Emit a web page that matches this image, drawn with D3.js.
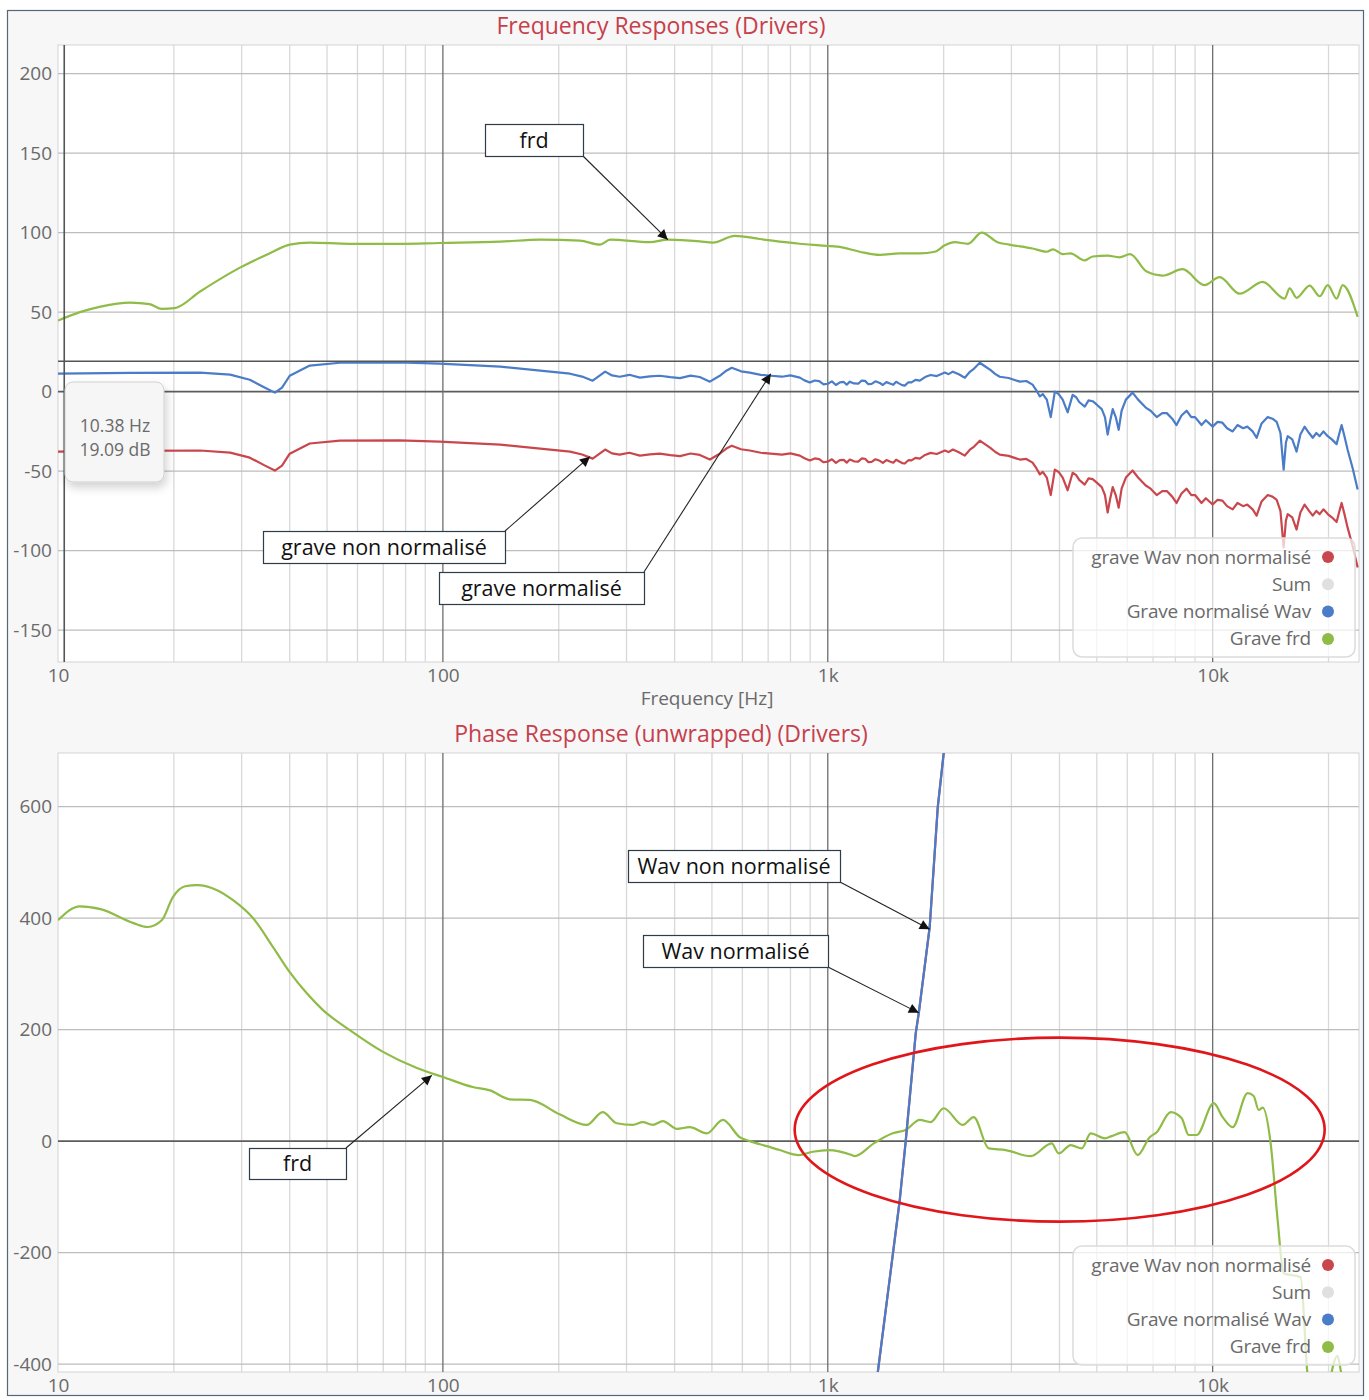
<!DOCTYPE html>
<html>
<head>
<meta charset="utf-8">
<script src="https://cdn.jsdelivr.net/npm/d3@7"></script>
<style>
  body { margin: 0; background: #fff; }
  svg { display: block; font-family: "Open Sans", "DejaVu Sans", sans-serif; }
</style>
</head>
<body>
<div id="chart"></div>
<script>
// ---- data ----
const freqTicks = [10, 100, 1000, 10000];
const freqTickLabels = ["10", "100", "1k", "10k"];
const minorFreqs = [20, 30, 40, 50, 60, 70, 80, 90, 200, 300, 400, 500, 600, 700, 800, 900,
  2000, 3000, 4000, 5000, 6000, 7000, 8000, 9000, 20000];
const magTicks = [-150, -100, -50, 0, 50, 100, 150, 200];
const phaseTicks = [-400, -200, 0, 200, 400, 600];

const legendNames = ["grave Wav non normalisé", "Sum", "Grave normalisé Wav", "Grave frd"];
const legendColors = ["#c9474c", "#e0e0e0", "#4a7cc7", "#8fbb47"];

// magnitude, wav curves (Hz, dB)
const magWavFreq = [10, 15.4, 23.4, 28, 31.5, 34.5, 36.6, 38.2, 40, 45.1,
  54, 77, 98, 141, 179, 214, 230, 245, 264, 275,
  288, 305, 325, 345, 366, 390, 413, 440, 465, 494,
  524, 545, 563, 595, 627, 670, 711, 760, 800, 846,
  870, 898, 925, 950, 975, 1000, 1025, 1050, 1075, 1100,
  1120, 1141, 1170, 1200, 1225, 1250, 1275, 1300, 1330, 1365,
  1390, 1420, 1450, 1480, 1505, 1530, 1560, 1585, 1620, 1650,
  1690, 1734, 1790, 1850, 1920, 2014, 2060, 2113, 2190, 2270,
  2340, 2400, 2483, 2560, 2650, 2720, 2798, 2950, 3155, 3280,
  3404, 3480, 3556, 3620, 3707, 3796, 3890, 3980, 4077, 4200,
  4327, 4420, 4500, 4652, 4760, 4878, 5000, 5150, 5250, 5336,
  5420, 5500, 5600, 5699, 5800, 5950, 6194, 6400, 6700, 6900,
  7155, 7400, 7600, 7850, 8055, 8300, 8557, 8800, 9000, 9355,
  9600, 10000, 10300, 10600, 10900, 11271, 11600, 12000, 12300, 12703,
  13008, 13400, 13900, 14300, 14666, 15000, 15289, 15500, 15668, 16100,
  16520, 16900, 17334, 17800, 18197, 18600, 18967, 19400, 19907, 20400,
  20991, 21300, 21630, 22000, 22420, 23100, 23810];
const magBlue = [11.3, 11.8, 12.0, 10.7, 7.5, 2.5, -0.6, 2.5, 10, 16.4,
  18.2, 18.4, 17.6, 15.7, 13.2, 11.3, 9.5, 6.9, 12.6, 10.2,
  9.4, 10.6, 8.8, 9.6, 10, 9.1, 8.5, 10.1, 9.2, 6.3,
  10, 13.2, 15, 12.8, 12, 10.6, 10, 9.4, 10.2, 8.8,
  7.1, 5.7, 7.0, 6.6, 4.6, 5, 6.5, 4.2, 5.9, 6.1,
  4.4, 6.3, 5.2, 5.0, 7.0, 6.8, 4.7, 4.9, 6.5, 5.5,
  4.2, 6.0, 5.1, 4.3, 6.2, 5.2, 4.1, 3.8, 5.9, 5.8,
  7.4, 6.9, 9.2, 10.5, 9.8, 12, 11.0, 12.6, 10.9, 8.8,
  12.5, 14.5, 18.2, 16.0, 13.5, 11.2, 9.4, 8.6, 6.3, 6.7,
  4.4, 1.0, -3, -1.5, -5, -16, 0, -1.5, -5, -13,
  -2, -3.5, -6.5, -9.4, -5.5, -6, -8.2, -11, -16, -27,
  -18, -11, -16, -24, -12, -5, -0.6, -5, -10, -12,
  -16, -13.5, -13.5, -17, -21, -15, -12, -16, -16, -21,
  -18, -22, -19, -19.5, -23, -25, -21, -23, -22, -25,
  -29, -20, -16, -17, -19, -26, -49, -32, -28, -30,
  -37.7, -27, -22, -26, -29, -26, -28, -25, -28, -30,
  -33, -27, -21, -28, -36.5, -48, -61.6];
const magRed = [-37.7, -37.2, -37.0, -38.3, -41.5, -46.5, -49.6, -46.5, -39, -32.6,
  -30.8, -30.6, -31.4, -33.3, -35.8, -37.7, -39.5, -42.1, -36.4, -38.8,
  -39.6, -38.4, -40.2, -39.4, -39, -39.9, -40.5, -38.9, -39.8, -42.7,
  -39, -35.8, -34, -36.2, -37, -38.4, -39, -39.6, -38.8, -40.2,
  -41.9, -43.3, -42, -42.4, -44.4, -44, -42.5, -44.8, -43.1, -42.9,
  -44.6, -42.7, -43.8, -44, -42, -42.2, -44.3, -44.1, -42.5, -43.5,
  -44.8, -43, -43.9, -44.7, -42.8, -43.8, -44.9, -45.2, -43.1, -43.2,
  -41.6, -42.1, -39.8, -38.5, -39.2, -37, -38, -36.4, -38.1, -40.2,
  -36.5, -34.5, -30.8, -33, -35.5, -37.8, -39.6, -40.4, -42.7, -42.3,
  -44.6, -48, -52, -50.5, -54, -65, -49, -50.5, -54, -62,
  -51, -52.5, -55.5, -58.4, -54.5, -55, -57.2, -60, -65, -76,
  -67, -60, -65, -73, -61, -54, -49.6, -54, -59, -61,
  -65, -62.5, -62.5, -66, -70, -64, -61, -65, -65, -70,
  -67, -71, -68, -68.5, -72, -74, -70, -72, -71, -74,
  -78, -69, -65, -66, -68, -75, -98, -81, -77, -79,
  -86.7, -76, -71, -75, -78, -75, -77, -74, -77, -79,
  -82, -76, -70, -77, -85.5, -97, -110.6];

// magnitude, frd curve
const magFrdFreq = [10, 11.4, 12.9, 15.4, 17.3, 18.6, 20.1, 23.4, 29.7, 35.5, 40, 45.1, 57.3, 77.3, 98, 141, 179, 227, 256,
  272, 345, 384, 465, 503, 573, 666, 846, 953, 1075, 1211, 1365, 1538, 1734, 1897, 2014, 2138, 2312, 2512, 2760,
  2960, 3404, 3707, 3850, 4077, 4270, 4652, 4878, 5336, 5728, 6100, 6740, 7413, 8354, 9524, 10426, 11755, 13490,
  15382, 15849, 16520, 17865, 18967, 19907, 20991, 21760, 23810];
const magFrd = [44.7, 50, 53.5, 56, 55, 52, 52.5, 63, 78, 87, 92.5, 93.7, 93, 93, 93.5, 94.3, 95.6, 95, 92.5,
  95.6, 94, 95.6, 94.5, 93.7, 98, 96, 93, 92, 91, 88, 86, 87, 87, 88, 92, 94, 93, 100, 94,
  92.5, 90, 88, 89.5, 86.5, 87, 82.5, 85, 85.5, 84.5, 86.5, 75.5, 73, 77, 67, 72, 61.6, 69,
  58.5, 65, 59, 66.7, 60, 67, 58.5, 67, 47];

// phase, frd curve (Hz, degrees)
const phaseFrdFreq = [10, 11.4, 12.9, 15.7, 17.1, 18.6, 19.9, 21.4, 23, 25.9, 28.5, 32.1, 36.2, 40, 44.3, 48.8, 57.3, 69.9,
  85.6, 100, 119.6, 132.5, 149.3, 168.3, 201, 236.6, 260, 283, 311.5, 330.7, 351, 372.7, 405.3, 438, 485, 534, 591,
  627, 694, 750, 841, 914, 1006, 1154, 1175, 1317, 1475, 1594, 1734, 1851, 2001, 2242, 2394, 2619, 2900, 3368, 3818,
  3981, 4278, 4568, 4822, 5243, 5467, 5907, 6386, 6862, 7155, 7780, 8308, 8663, 9088, 10060, 10617, 11271, 12327,
  12778, 13166, 13490, 14147, 14754, 15289, 16927, 17652, 18967, 21100, 21630, 23810];
const phaseFrd = [396, 421, 416, 391, 384, 396, 438, 457, 459, 450, 432, 400, 348, 303, 265, 235, 199, 160,
  131, 115, 97, 91, 75, 74, 48, 29, 52, 32, 29, 34, 29, 36, 22, 25, 14, 38, 7,
  0, -9, -16, -25, -19, -16, -25, -27, -4, 14, 20, 38, 34, 59, 29, 43, -13, -16, -27, -4,
  -22, -7, -13, 14, 5, 9, 16, -25, 7, 16, 52, 41, 11, 11, 68, 43, 25, 86,
  81, 56, 60, -4, -142, -237, -244, -420, -500, -385, -420, -520];

// phase, wav curves (both wav curves lie on the same line)
const phaseWavFreq = [1300, 1349, 1538, 1594, 1693, 1724, 1840, 1931, 2001, 2060];
const phaseWavNorm = [-520, -414, -106, 0, 194, 230, 384, 599, 696, 790];
const phaseWavNonNorm = [-520, -414, -106, 0, 194, 230, 384, 599, 696, 790];

// ---- layout ----
const W = 1369, H = 1400;
const svg = d3.select("#chart").append("svg").attr("width", W).attr("height", H);

svg.append("rect").attr("x", 7.5).attr("y", 10.5).attr("width", 1356).attr("height", 1385)
  .attr("fill", "#f7f7f7").attr("stroke", "#55677a").attr("stroke-width", 1.2);

const defs = svg.append("defs");
defs.append("marker").attr("id", "arrow").attr("viewBox", "0 0 10 10")
  .attr("refX", 10).attr("refY", 5).attr("markerWidth", 14).attr("markerHeight", 10)
  .attr("markerUnits", "userSpaceOnUse").attr("orient", "auto")
  .append("path").attr("d", "M0,0 L10,5 L0,10 z").attr("fill", "#111");
const shadow = defs.append("filter").attr("id", "shadow").attr("x", "-30%").attr("y", "-30%")
  .attr("width", "160%").attr("height", "160%");
shadow.append("feDropShadow").attr("dx", 2).attr("dy", 5).attr("stdDeviation", 5)
  .attr("flood-color", "#000").attr("flood-opacity", 0.18);

function panel(cfg) {
  const x = d3.scaleLog().domain([10, 24000]).range([cfg.left, cfg.right]);
  const y = d3.scaleLinear().domain(cfg.yDomain).range([cfg.bottom, cfg.top]);
  const g = svg.append("g");

  g.append("rect").attr("x", cfg.left).attr("y", cfg.top)
    .attr("width", cfg.right - cfg.left).attr("height", cfg.bottom - cfg.top)
    .attr("fill", "#fff").attr("stroke", "#d4d4d4");

  // grid
  g.selectAll(".minor").data(minorFreqs).enter().append("line")
    .attr("x1", d => x(d)).attr("x2", d => x(d)).attr("y1", cfg.top).attr("y2", cfg.bottom)
    .attr("stroke", "#d9d9d9").attr("stroke-width", 1.3);
  g.selectAll(".hgrid").data(cfg.yTicks).enter().append("line")
    .attr("x1", cfg.left).attr("x2", cfg.right).attr("y1", d => y(d)).attr("y2", d => y(d))
    .attr("stroke", d => d === 0 ? "#5c5c5c" : "#bdbdbd").attr("stroke-width", d => d === 0 ? 1.6 : 1.3);
  g.selectAll(".major").data(freqTicks.slice(1)).enter().append("line")
    .attr("x1", d => x(d)).attr("x2", d => x(d)).attr("y1", cfg.top).attr("y2", cfg.bottom)
    .attr("stroke", "#6e6e6e").attr("stroke-width", 1.3);

  // axes
  const ya = g.append("g").attr("transform", `translate(${cfg.left - 5},0)`)
    .call(d3.axisLeft(y).tickValues(cfg.yTicks).tickSize(0).tickPadding(1).tickFormat(d => String(d)));
  const xa = g.append("g").attr("transform", `translate(0,${cfg.bottom + 3})`)
    .call(d3.axisBottom(x).tickValues(freqTicks).tickSize(0).tickPadding(3)
      .tickFormat((d, i) => freqTickLabels[i]));
  [ya, xa].forEach(a => {
    a.select(".domain").remove();
    a.selectAll("text").attr("fill", "#6a6a6a").attr("font-size", 19).attr("font-family", "Open Sans, sans-serif");
  });

  // title
  svg.append("text").attr("x", 661).attr("y", cfg.top - 11)
    .attr("text-anchor", "middle").attr("fill", "#c6404c").attr("font-size", 23).text(cfg.title);

  const clipId = "clip" + cfg.top;
  defs.append("clipPath").attr("id", clipId).append("rect")
    .attr("x", cfg.left).attr("y", cfg.top).attr("width", cfg.right - cfg.left).attr("height", cfg.bottom - cfg.top);
  const plot = g.append("g").attr("clip-path", `url(#${clipId})`);
  return { x, y, g, plot };
}

function drawSeries(p, freqs, vals, color, curve) {
  const pts = freqs.map((f, i) => [f, vals[i]]);
  p.plot.append("path").datum(pts)
    .attr("d", d3.line().x(d => p.x(d[0])).y(d => p.y(d[1])).curve(curve))
    .attr("fill", "none").attr("stroke", color).attr("stroke-width", 2.2).attr("stroke-linejoin", "round");
}

function legend(yTop) {
  const lg = svg.append("g");
  lg.append("rect").attr("x", 1073).attr("y", yTop).attr("width", 282).attr("height", 119).attr("rx", 9)
    .attr("fill", "#fff").attr("fill-opacity", 0.72).attr("stroke", "#dcdcdc").attr("stroke-width", 1.5);
  legendNames.forEach((n, i) => {
    const cy = yTop + 19 + i * 27.3;
    lg.append("text").attr("x", 1311).attr("y", cy + 6.5).attr("text-anchor", "end")
      .attr("fill", "#6a6a6a").attr("font-size", 19).attr("letter-spacing", -0.2).text(n);
    lg.append("circle").attr("cx", 1328).attr("cy", cy).attr("r", 6).attr("fill", legendColors[i]);
  });
}

function callout(p, text, box, fromPt, tipF, tipV) {
  const c = svg.append("g");
  c.append("line").attr("x1", fromPt[0]).attr("y1", fromPt[1])
    .attr("x2", p.x(tipF)).attr("y2", p.y(tipV))
    .attr("stroke", "#222").attr("stroke-width", 1.1).attr("marker-end", "url(#arrow)");
  c.append("rect").attr("x", box[0] + 0.5).attr("y", box[1] + 0.5).attr("width", box[2]).attr("height", box[3])
    .attr("fill", "#fff").attr("stroke", "#2e3b48").attr("stroke-width", 1.2);
  c.append("text").attr("x", box[0] + box[2] / 2).attr("y", box[1] + box[3] / 2 + 7.5)
    .attr("text-anchor", "middle").attr("fill", "#111").attr("font-size", 21.5)
    .attr("font-family", "Open Sans, sans-serif").text(text);
}

// ---- top: magnitude ----
const magP = panel({ left: 58, right: 1359, top: 45, bottom: 662, yDomain: [-170, 218], yTicks: magTicks,
  title: "Frequency Responses (Drivers)" });
drawSeries(magP, magFrdFreq, magFrd, legendColors[3], d3.curveMonotoneX);
drawSeries(magP, magWavFreq, magRed, legendColors[0], d3.curveLinear);
drawSeries(magP, magWavFreq, magBlue, legendColors[2], d3.curveLinear);

// crosshair at cursor
const curF = 10.38, curV = 19.09;
magP.plot.append("line").attr("x1", magP.x(curF)).attr("x2", magP.x(curF)).attr("y1", 45).attr("y2", 662)
  .attr("stroke", "#555").attr("stroke-width", 1.6);
magP.plot.append("line").attr("x1", 58).attr("x2", 1359).attr("y1", magP.y(curV)).attr("y2", magP.y(curV))
  .attr("stroke", "#555").attr("stroke-width", 1.6);

svg.append("text").attr("x", 707).attr("y", 705).attr("text-anchor", "middle")
  .attr("fill", "#6a6a6a").attr("font-size", 19).text("Frequency [Hz]");
legend(538);

const tip = svg.append("g");
tip.append("rect").attr("x", 65).attr("y", 382).attr("width", 99).attr("height", 100).attr("rx", 8)
  .attr("fill", "#f6f6f6").attr("stroke", "#d0d0d0").attr("filter", "url(#shadow)");
tip.append("text").attr("x", 115).attr("y", 432).attr("text-anchor", "middle").attr("fill", "#6a6a6a")
  .attr("font-size", 17.5).text(curF.toFixed(2) + " Hz");
tip.append("text").attr("x", 115).attr("y", 456).attr("text-anchor", "middle").attr("fill", "#6a6a6a")
  .attr("font-size", 17.5).text(curV.toFixed(2) + " dB");

callout(magP, "frd", [485, 124, 98, 32], [583, 156], 384, 95.6);
callout(magP, "grave non normalisé", [263, 531, 242, 32], [505, 531], 241, -40.9);
callout(magP, "grave normalisé", [439, 572, 205, 32], [644, 572], 711, 11.3);

// ---- bottom: phase ----
const phaseP = panel({ left: 58, right: 1359, top: 753, bottom: 1372, yDomain: [-414, 696], yTicks: phaseTicks,
  title: "Phase Response (unwrapped) (Drivers)" });
drawSeries(phaseP, phaseFrdFreq, phaseFrd, legendColors[3], d3.curveMonotoneX);
drawSeries(phaseP, phaseWavFreq, phaseWavNonNorm, legendColors[0], d3.curveLinear);
drawSeries(phaseP, phaseWavFreq, phaseWavNorm, legendColors[2], d3.curveLinear);
legend(1246);

callout(phaseP, "Wav non normalisé", [628, 850, 212, 32], [840, 882], 1840, 380);
callout(phaseP, "Wav normalisé", [643, 935, 185, 32], [828, 967], 1724, 230);
callout(phaseP, "frd", [249, 1148, 97, 31], [346, 1148], 93.6, 118);

// highlighted region
svg.append("ellipse").attr("cx", phaseP.x(4004)).attr("cy", phaseP.y(20.6)).attr("rx", 265).attr("ry", 92)
  .attr("fill", "none").attr("stroke", "#e0161b").attr("stroke-width", 2.6);
</script>
</body>
</html>
